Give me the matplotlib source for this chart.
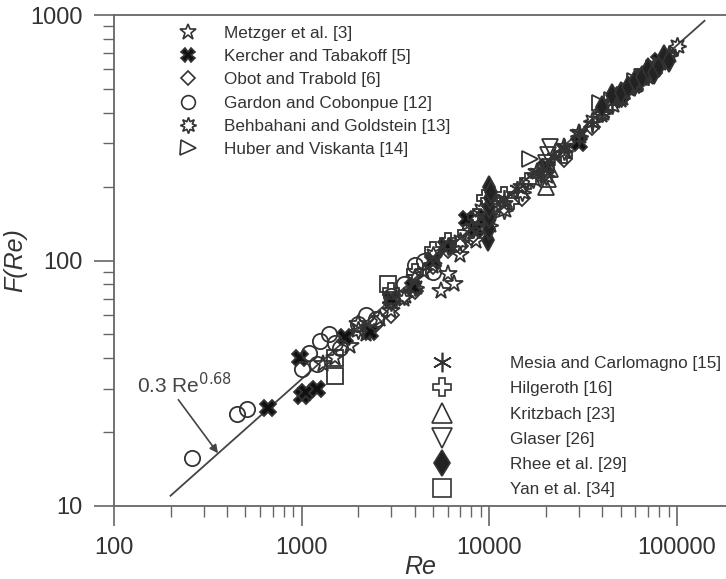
import numpy as np
import matplotlib.pyplot as plt
from matplotlib.lines import Line2D

plt.rcParams['font.family'] = ['Liberation Sans', 'DejaVu Sans']

# data (Re, F(Re)) for every source
re_metzger = [1300, 1500, 1800, 2000, 2200, 2600, 3000, 3500, 4000, 4500, 5000, 5500, 6000, 6500, 7000,
              8500, 10000, 12000, 15000, 18000, 25000, 30000, 40000, 50000, 60000, 70000, 90000]
f_metzger = [38, 40, 45, 55, 50, 58, 62, 70, 85, 90, 95, 75, 88, 80, 105,
             120, 150, 170, 200, 230, 290, 330, 390, 450, 520, 560, 680]

re_kercher = [660, 1000, 1050, 1200, 980, 1700, 2300, 3000, 3900, 5000, 5900, 7600, 8500, 9500,
              20000, 30000, 50000, 60000, 65000, 75000, 80000]
f_kercher = [25, 28, 29, 30, 40, 49, 51, 70, 78, 100, 115, 148, 135, 150,
             240, 300, 470, 520, 560, 600, 650]

re_obot = [2500, 3000, 4000, 5000, 6000, 7000, 8000, 10000, 12000, 15000, 20000, 25000, 35000]
f_obot = [55, 60, 75, 95, 110, 115, 125, 150, 165, 180, 230, 260, 350]

re_gardon = [260, 450, 510, 1000, 1100, 1200, 1250, 1400, 1500, 1600, 2000, 2200, 2500, 3000, 3500,
             4000, 4500, 5000]
f_gardon = [15.7, 23.8, 24.9, 36, 42, 38, 47, 50, 46, 44, 55, 60, 58, 72, 80,
            96, 100, 90]

re_behbahani = [2000, 3000, 3500, 4000, 5000, 6000, 7000, 8000, 9000, 10000, 12000, 15000, 17000, 20000,
                25000, 30000, 35000, 40000, 45000, 50000, 55000, 60000, 65000, 70000, 75000, 80000,
                90000, 100000]
f_behbahani = [52, 68, 72, 78, 105, 115, 120, 135, 160, 140, 160, 190, 215, 220,
               280, 320, 370, 400, 430, 460, 500, 520, 560, 580, 620, 640,
               690, 745]

re_huber = [16400, 39000, 45000, 60000, 75000]
f_huber = [258, 440, 450, 540, 610]

re_mesia = [10000, 12000, 14000, 18000, 22000, 25000, 30000, 35000, 40000, 45000, 50000, 55000,
            60000, 70000, 75000, 85000]
f_mesia = [160, 180, 195, 230, 265, 290, 330, 360, 400, 440, 470, 490,
           520, 560, 600, 650]

re_hilgeroth = [3000, 4000, 5000, 6000, 7500, 8500, 9000, 9500, 10000, 11000, 12000, 13000, 16000,
                20000, 25000]
f_hilgeroth = [75, 90, 110, 120, 130, 150, 140, 180, 175, 170, 185, 175, 210,
               240, 270]

re_kritzbach = [20000, 20500, 21000, 60000]
f_kritzbach = [200, 215, 235, 530]

re_glaser = [20000, 20500, 21000, 65000]
f_glaser = [250, 270, 290, 560]

re_rhee = [9800, 10000, 10000, 10000, 10100, 10000, 10200, 40000, 45000, 50000, 55000, 60000, 65000,
           70000, 75000, 80000, 85000, 90000]
f_rhee = [121, 135, 150, 165, 180, 200, 190, 420, 470, 480, 510, 540, 560,
          600, 580, 620, 680, 650]

re_yan = [1500, 1500, 2900]
f_yan = [34, 40, 80]

# correlation line 0.3 Re^0.68
re_fit = np.array([200, 140000])
f_fit = 0.3 * re_fit ** 0.68

ec = '#333333'
fig = plt.figure(figsize=(7.26, 5.79), dpi=100)
ax = fig.add_axes([114 / 726, 1 - 506 / 579, 1 - 114 / 726, (506 - 15) / 579])

ax.plot(re_fit, f_fit, color='#444444', lw=1.3, zorder=1)

series = [
    (re_metzger, f_metzger, '*', 'none', 13, 'Metzger et al. [3]'),
    (re_kercher, f_kercher, 'X', '#111111', 11, 'Kercher and Tabakoff [5]'),
    (re_obot, f_obot, 'D', 'none', 8, 'Obot and Trabold [6]'),
    (re_gardon, f_gardon, 'o', 'none', 11, 'Gardon and Cobonpue [12]'),
    (re_behbahani, f_behbahani, (8, 1, 0), 'none', 13, 'Behbahani and Goldstein [13]'),
    (re_huber, f_huber, '>', 'none', 12, 'Huber and Viskanta [14]'),
    (re_mesia, f_mesia, (6, 2, 0), 'none', 12, 'Mesia and Carlomagno [15]'),
    (re_hilgeroth, f_hilgeroth, 'P', 'none', 11, 'Hilgeroth [16]'),
    (re_kritzbach, f_kritzbach, '^', 'none', 12, 'Kritzbach [23]'),
    (re_glaser, f_glaser, 'v', 'none', 12, 'Glaser [26]'),
    (re_rhee, f_rhee, 'd', '#222222', 11, 'Rhee et al. [29]'),
    (re_yan, f_yan, 's', 'none', 11, 'Yan et al. [34]'),
]

handles = []
for xs, ys, mk, fc, ms, lab in series:
    ax.plot(xs, ys, ls='none', marker=mk, ms=ms, mfc=fc, mec=ec, mew=1.3, zorder=2)
    handles.append(Line2D([], [], ls='none', marker=mk, ms=ms * 0.9, mfc=fc, mec=ec, mew=1.2, label=lab))

ax.set_xscale('log')
ax.set_yscale('log')
ax.set_xlim(100, 10 ** (2 + 612 / 187.7))
ax.set_ylim(10, 1000)
ax.spines['right'].set_visible(False)
for s in ['left', 'bottom', 'top']:
    ax.spines[s].set_color('#666666')
    ax.spines[s].set_linewidth(1.3)
ax.tick_params(which='major', direction='out', length=14.5, width=1.2, color='#666666',
               labelsize=17, pad=8, labelcolor='#333333')
ax.tick_params(which='minor', direction='out', length=8, width=1.0, color='#666666')
ax.set_xticks([100, 1000, 10000, 100000])
ax.set_xticklabels(['100', '1000', '10000', '100000'])
ax.set_yticks([10, 100, 1000])
ax.set_yticklabels(['10', '100', '1000'])
ax.set_xlabel('Re', fontsize=18, style='italic', color='#333333', labelpad=-3)
ax.set_ylabel('F(Re)', fontsize=18, style='italic', color='#333333', labelpad=2)

ax.annotate('0.3 Re$^{0.68}$', xy=(358, 16.4), xytext=(133, 31.3), fontsize=15, color='#444444',
            ha='left', va='center',
            arrowprops=dict(arrowstyle='-|>', color='#444444', lw=1.2, shrinkA=0, shrinkB=0,
                            relpos=(0.41, 0.0), mutation_scale=12))

leg1 = fig.legend(handles=handles[:6], loc='upper left', bbox_to_anchor=(171 / 726, 1 - 26 / 579),
                  frameon=False, fontsize=12.3, borderpad=0, borderaxespad=0, handlelength=2.0,
                  handletextpad=1.1, labelspacing=0.48, labelcolor='#333333')
leg2 = fig.legend(handles=handles[6:], loc='upper left', bbox_to_anchor=(425 / 726, 1 - 356 / 579),
                  frameon=False, fontsize=12.3, borderpad=0, borderaxespad=0, handlelength=2.0,
                  handletextpad=3.0, labelspacing=0.6, markerscale=1.3, labelcolor='#333333')

fig.savefig('out.png', dpi=100)
